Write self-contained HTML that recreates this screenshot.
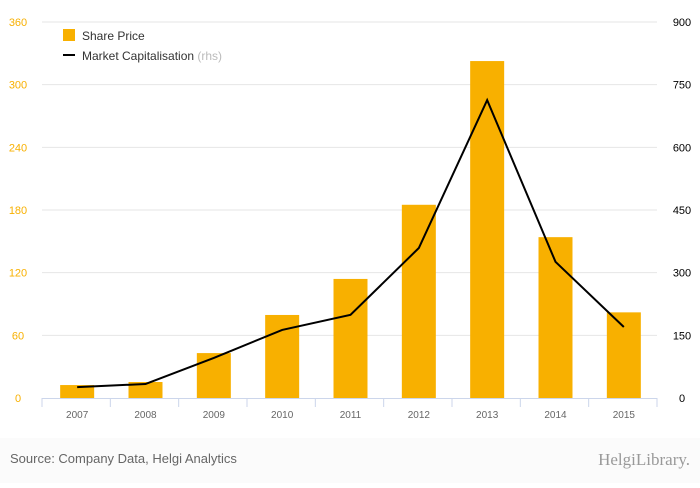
<!DOCTYPE html>
<html><head><meta charset="utf-8"><style>
body{margin:0;width:700px;height:483px;background:#fff;font-family:"Liberation Sans",sans-serif;overflow:hidden}
</style></head><body>
<svg width="700" height="483">
<rect x="0" y="438" width="700" height="45" fill="#fbfbfb"/>
<g id="grid"></g><g id="bars"></g><g id="line"></g><g id="axes"></g>
<g>
<rect x="63" y="29" width="12" height="12" fill="#f8b000"/>
<text x="82" y="40" font-size="12" fill="#333">Share Price</text>
<rect x="63" y="54" width="12" height="2" fill="#000"/>
<text x="82" y="60" font-size="12" fill="#333">Market Capitalisation <tspan fill="#bbb">(rhs)</tspan></text>
</g>
<text x="10" y="463" font-size="13" fill="#666">Source: Company Data, Helgi Analytics</text>
<text x="690" y="465" font-size="17" fill="#999" text-anchor="end" font-family="Liberation Serif,serif">HelgiLibrary.</text>
</svg>
<script>
const categories=["2007","2008","2009","2010","2011","2012","2013","2014","2015"];
const sharePrice=[12.4,15.3,43,79.5,114,185,322.6,154,82];
const marketCap=[26,33.5,96,163,199,359,713,326,170];
const leftTicks=[0,60,120,180,240,300,360];
const rightTicks=[0,150,300,450,600,750,900];
const NS="http://www.w3.org/2000/svg";
const x0=42,x1=657,yTop=22,yBot=398;
const bw=(x1-x0)/categories.length;
const xC=i=>x0+bw*(i+0.5)+1;
const yL=v=>yBot-v/360*(yBot-yTop);
const yR=v=>yBot-v/900*(yBot-yTop);
function mk(tag,attrs,parent){const e=document.createElementNS(NS,tag);for(const k in attrs)e.setAttribute(k,attrs[k]);document.getElementById(parent).appendChild(e);return e;}
leftTicks.forEach((t,i)=>{
 if(t>0){const g=mk("line",{x1:x0,x2:x1,y1:yL(t),y2:yL(t),stroke:"#e6e6e6"},"grid");
 
 }
 const l=mk("text",{x:18,y:yL(t)+4,"font-size":11,fill:"#f8b000","text-anchor":"middle"},"axes");l.textContent=t;
 
 
});
rightTicks.forEach(t=>{
 const l=mk("text",{x:682,y:yR(t)+4,"font-size":11,fill:"#000","text-anchor":"middle"},"axes");l.textContent=t;
 
 
});
categories.forEach((c,i)=>{
 const b=mk("rect",{x:xC(i)-17,y:yL(sharePrice[i]),width:34,height:yBot-yL(sharePrice[i]),fill:"#f8b000"},"bars");
 
 
 const l=mk("text",{x:xC(i),y:418,"font-size":10,fill:"#666","text-anchor":"middle"},"axes");l.textContent=c;
 
 
});
for(let i=0;i<=categories.length;i++){
 const t=mk("line",{x1:x0+bw*i,x2:x0+bw*i,y1:yBot,y2:yBot+9,stroke:"#ccd6eb"},"axes");
 
 
}
const ax=mk("line",{x1:x0,x2:x1,y1:yBot+0.5,y2:yBot+0.5,stroke:"#ccd6eb"},"axes");


const p=mk("polyline",{points:marketCap.map((v,i)=>xC(i)+","+yR(v)).join(" "),fill:"none",stroke:"#000","stroke-width":2},"line");


</script>
</body></html>
